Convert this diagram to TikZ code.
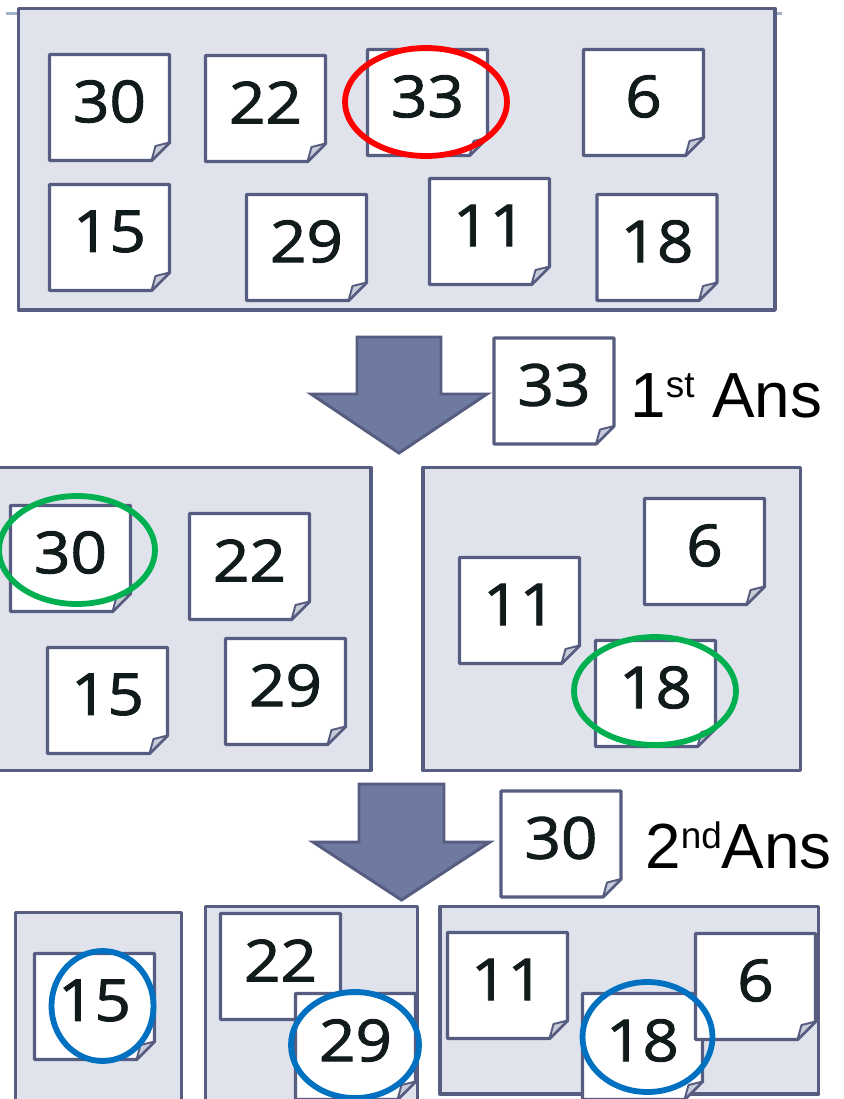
\documentclass[tikz,border=0pt]{standalone}
\usepackage{fontspec}
\setmainfont{Liberation Sans}
\newfontfamily\cardfont[FakeStretch=1.1, FakeBold=1.6]{Open Sans}

\definecolor{edge}{HTML}{575D80}
\definecolor{panel}{HTML}{E0E3EC}
\definecolor{flapfill}{HTML}{C8CBD8}
\definecolor{ink}{HTML}{121B1B}
\definecolor{arrowfill}{HTML}{6F7AA0}
\definecolor{rulecol}{HTML}{A3B3C9}
\definecolor{markred}{HTML}{FF0000}
\definecolor{markgreen}{HTML}{00B050}
\definecolor{markblue}{HTML}{0070C0}

\tikzset{
  panelbox/.style={draw=edge, fill=panel, line width=1.9pt, line join=round},
  cardshape/.style={draw=edge, fill=white, line width=1.9pt, line join=round},
  flapshape/.style={draw=edge, fill=flapfill, line width=1.1pt, line join=round},
  num/.style={font=\cardfont\fontsize{33}{33}\selectfont, text=ink, inner sep=0pt},
  ring/.style={line width=3.3pt},
  blockarrow/.style={draw=edge, fill=arrowfill, line width=1.7pt, line join=miter},
  anslabel/.style={font=\fontsize{36.3}{36.3}\selectfont, inner sep=0pt, anchor=base west},
}

% a sticky note with a curled lower-right corner: name, left, top, number
\newcommand\notecard[4]{%
  \path[cardshape] (#2,#3) -- ++(120,0) -- ++(0,88) -- ++(-18,18) -- ++(-102,0) -- cycle;
  \path[flapshape] (#2+120,#3+88) -- (#2+106,#3+91.5) -- (#2+102,#3+106) -- cycle;
  \node[num] (#1) at (#2+60,#3+47) {#4};
}
\newcommand\supertext[1]{\raisebox{11.3pt}{\fontsize{21}{21}\selectfont #1}}

\begin{document}
\begin{tikzpicture}[x=0.02cm, y=-0.02cm]
\useasboundingbox (0,0) rectangle (844,1099);
\fill[white] (0,0) rectangle (844,1099);
\begin{scope}
\clip (0,0) rectangle (844,1099);

% faint rule behind the first panel
\draw[rulecol, line width=1.5pt] (6,13.3) -- (782,13.3);

% ---- full set ----
\path[panelbox] (18.5,8.5) rectangle (775,310);
\notecard{a30}{49.5}{54.5}{30}
\notecard{a22}{205.5}{55.5}{22}
\notecard{a33}{367.5}{49.5}{33}
\notecard{a6}{583.5}{49.5}{6}
\notecard{a15}{49.5}{184.5}{15}
\notecard{a29}{246.5}{194.5}{29}
\notecard{a11}{429.5}{178.5}{11}
\notecard{a18}{597}{194.5}{18}
\draw[ring, markred] (426,102) ellipse [x radius=81, y radius=54];

% ---- first step ----
\draw[blockarrow] (357,337) -- (441,337) -- (441,394) -- (487,394) -- (399,453)
  -- (311,394) -- (357,394) -- cycle;
\notecard{b33}{494}{338}{33}
\node[anslabel] (ans1) at (630,417) {1\supertext{st} Ans};

\path[panelbox] (-10,467.5) rectangle (371,770.5);
\notecard{b30}{10.5}{505.5}{30}
\notecard{b22}{189.5}{513.5}{22}
\notecard{b15}{47.5}{647.5}{15}
\notecard{b29}{225.5}{638.5}{29}
\draw[ring, markgreen] (77,550) ellipse [x radius=78, y radius=54];

\path[panelbox] (423,467.5) rectangle (800.5,770.5);
\notecard{b11}{459.5}{557.5}{11}
\notecard{b6}{644.5}{498.5}{6}
\notecard{b18}{595.5}{640.5}{18}
\draw[ring, markgreen] (655,691) ellipse [x radius=81, y radius=54];

% ---- second step ----
\draw[blockarrow] (359,784) -- (444,784) -- (444,842) -- (490,842) -- (401.5,900)
  -- (313,842) -- (359,842) -- cycle;
\notecard{c30}{501}{791}{30}
\node[anslabel] (ans2) at (645,868) {2\supertext{nd}Ans};

\path[panelbox] (15.5,912.5) rectangle (181.5,1110);
\notecard{c15}{34.5}{953.5}{15}
\draw[ring, markblue] (102.5,1006) ellipse [x radius=51, y radius=55];

\path[panelbox] (205.5,906.5) rectangle (417.5,1110);
\notecard{c22}{220.5}{913.5}{22}
\notecard{c29}{295.5}{993.5}{29}
\draw[ring, markblue] (355,1045) ellipse [x radius=64, y radius=53];

\path[panelbox] (440,906.5) rectangle (818.5,1094);
\notecard{c11}{447.5}{932.5}{11}
\notecard{c18}{582.5}{993.5}{18}
\notecard{c6}{695.5}{933.5}{6}
\draw[ring, markblue] (647.5,1037) ellipse [x radius=65, y radius=55];
\end{scope}
\end{tikzpicture}
\end{document}
